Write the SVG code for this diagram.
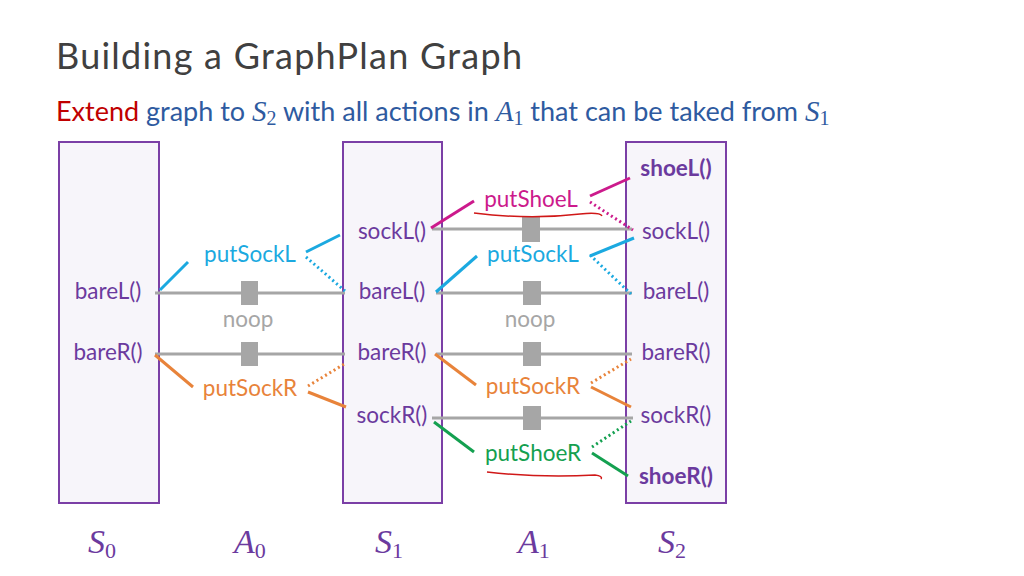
<svg xmlns="http://www.w3.org/2000/svg" width="1024" height="576" viewBox="0 0 1024 576">
<style>
text{font-family:Lato,"Open Sans","Liberation Sans",sans-serif}
.lvl{fill:#f7f5fa;stroke:#7b3fa6;stroke-width:2}
.n{font-size:22.5px;fill:#6b3a9e;text-anchor:middle;dominant-baseline:middle}
.b{font-weight:bold}
.a{font-size:22.5px;text-anchor:middle;dominant-baseline:middle}
.noop{stroke:#a6a6a6;stroke-width:3}
.sq{fill:#a6a6a6}
.c{stroke:#1ba9e0;stroke-width:3}.o{stroke:#e8833a;stroke-width:3}.m{stroke:#cc1a8c;stroke-width:3}.g{stroke:#14a050;stroke-width:3}
.d{stroke-dasharray:2 3}
.u{fill:none;stroke:#d01818;stroke-width:1.5}
.math{font-family:"Liberation Serif",serif;font-style:italic;fill:#6b3a9e;font-size:34px}
.sub{font-family:"Liberation Serif",serif;font-style:normal;font-size:22px}
</style>
<rect width="1024" height="576" fill="#fff"/>
<text x="56" y="69" font-size="36" fill="#404040" font-family="Open Sans" textLength="466">Building a GraphPlan Graph</text>
<text x="56" y="121" font-size="27" fill="#2e5aa0"><tspan fill="#c00000">Extend</tspan> graph to <tspan font-family="Liberation Serif" font-style="italic" font-size="29">S</tspan><tspan font-family="Liberation Serif" font-size="20" dy="4">2</tspan><tspan dy="-4"> with all actions in </tspan><tspan font-family="Liberation Serif" font-style="italic" font-size="29">A</tspan><tspan font-family="Liberation Serif" font-size="20" dy="4">1</tspan><tspan dy="-4"> that can be taked from </tspan><tspan font-family="Liberation Serif" font-style="italic" font-size="29">S</tspan><tspan font-family="Liberation Serif" font-size="20" dy="4">1</tspan></text>
<g id="S0"><rect class="lvl" x="59" y="142" width="100" height="361"/></g>
<g id="S1"><rect class="lvl" x="343" y="142" width="99" height="361"/></g>
<g id="S2"><rect class="lvl" x="626" y="142" width="100" height="361"/></g>
<g id="connectors" fill="none">
<line class="noop" x1="155" y1="293" x2="345" y2="293"/><rect class="sq" x="241" y="281" width="17" height="24"/>
<line class="noop" x1="155" y1="354" x2="345" y2="354"/><rect class="sq" x="241" y="342" width="17" height="24"/>
<line class="noop" x1="432" y1="229" x2="632" y2="229"/><rect class="sq" x="522" y="217" width="18" height="25"/>
<line class="noop" x1="436" y1="293" x2="632" y2="293"/><rect class="sq" x="523" y="281" width="18" height="24"/>
<line class="noop" x1="436" y1="354" x2="632" y2="354"/><rect class="sq" x="523" y="342" width="18" height="24"/>
<line class="noop" x1="432" y1="418" x2="633" y2="418"/><rect class="sq" x="523" y="406" width="18" height="24"/>
<line class="c" x1="160" y1="290" x2="188" y2="262"/><line class="c" x1="306" y1="252" x2="340" y2="235"/><line class="c d" x1="306" y1="257" x2="345" y2="291"/>
<line class="o" x1="155" y1="355" x2="193" y2="387"/><line class="o" x1="308" y1="392" x2="346" y2="407"/><line class="o d" x1="308" y1="386" x2="346" y2="363"/>
<line class="m" x1="431" y1="228" x2="474" y2="201"/><line class="m" x1="590" y1="196" x2="630" y2="178"/><line class="m d" x1="590" y1="202" x2="633" y2="230"/>
<line class="c" x1="436" y1="292" x2="477" y2="256"/><line class="c" x1="590" y1="256" x2="634" y2="238"/><line class="c d" x1="590" y1="255" x2="631" y2="294"/>
<line class="o" x1="435" y1="354" x2="476" y2="385"/><line class="o" x1="591" y1="387" x2="631" y2="407"/><line class="o d" x1="591" y1="383" x2="631" y2="359"/>
<line class="g" x1="434" y1="422" x2="474" y2="452"/><line class="g" x1="592" y1="453" x2="628" y2="476"/><line class="g d" x1="592" y1="447" x2="631" y2="421"/>
<path class="u" d="M474 213 Q530 220 580 214 Q600 212 602 216"/>
<path class="u" d="M487 472 Q540 478 595 475 Q603 476 601 479"/>
</g>
<g id="s0-bareL"><text class="n" x="108" y="293">bareL()</text></g>
<g id="s0-bareR"><text class="n" x="108" y="354">bareR()</text></g>
<g id="a0-putSockL"><text class="a" x="250" y="256" fill="#1ba9e0">putSockL</text></g>
<g id="a0-noop"><text class="a" x="248" y="321" fill="#a6a6a6">noop</text></g>
<g id="a0-putSockR"><text class="a" x="250" y="390" fill="#e8833a">putSockR</text></g>
<g id="s1-sockL"><text class="n" x="392" y="233">sockL()</text></g>
<g id="s1-bareL"><text class="n" x="392" y="293">bareL()</text></g>
<g id="s1-bareR"><text class="n" x="392" y="354">bareR()</text></g>
<g id="s1-sockR"><text class="n" x="392" y="417">sockR()</text></g>
<g id="a1-putShoeL"><text class="a" x="531" y="201" fill="#cc1a8c">putShoeL</text></g>
<g id="a1-putSockL"><text class="a" x="533" y="256" fill="#1ba9e0">putSockL</text></g>
<g id="a1-noop"><text class="a" x="530" y="321" fill="#a6a6a6">noop</text></g>
<g id="a1-putSockR"><text class="a" x="533" y="388" fill="#e8833a">putSockR</text></g>
<g id="a1-putShoeR"><text class="a" x="533" y="455" fill="#14a050">putShoeR</text></g>
<g id="s2-shoeL"><text class="n b" x="676" y="170">shoeL()</text></g>
<g id="s2-sockL"><text class="n" x="676" y="233">sockL()</text></g>
<g id="s2-bareL"><text class="n" x="676" y="293">bareL()</text></g>
<g id="s2-bareR"><text class="n" x="676" y="354">bareR()</text></g>
<g id="s2-sockR"><text class="n" x="676" y="417">sockR()</text></g>
<g id="s2-shoeR"><text class="n b" x="676" y="478">shoeR()</text></g>
<text class="math" x="88" y="553">S<tspan class="sub" dy="5">0</tspan></text>
<text class="math" x="234" y="553">A<tspan class="sub" dy="5">0</tspan></text>
<text class="math" x="375" y="553">S<tspan class="sub" dy="5">1</tspan></text>
<text class="math" x="518" y="553">A<tspan class="sub" dy="5">1</tspan></text>
<text class="math" x="658" y="553">S<tspan class="sub" dy="5">2</tspan></text>
</svg>
